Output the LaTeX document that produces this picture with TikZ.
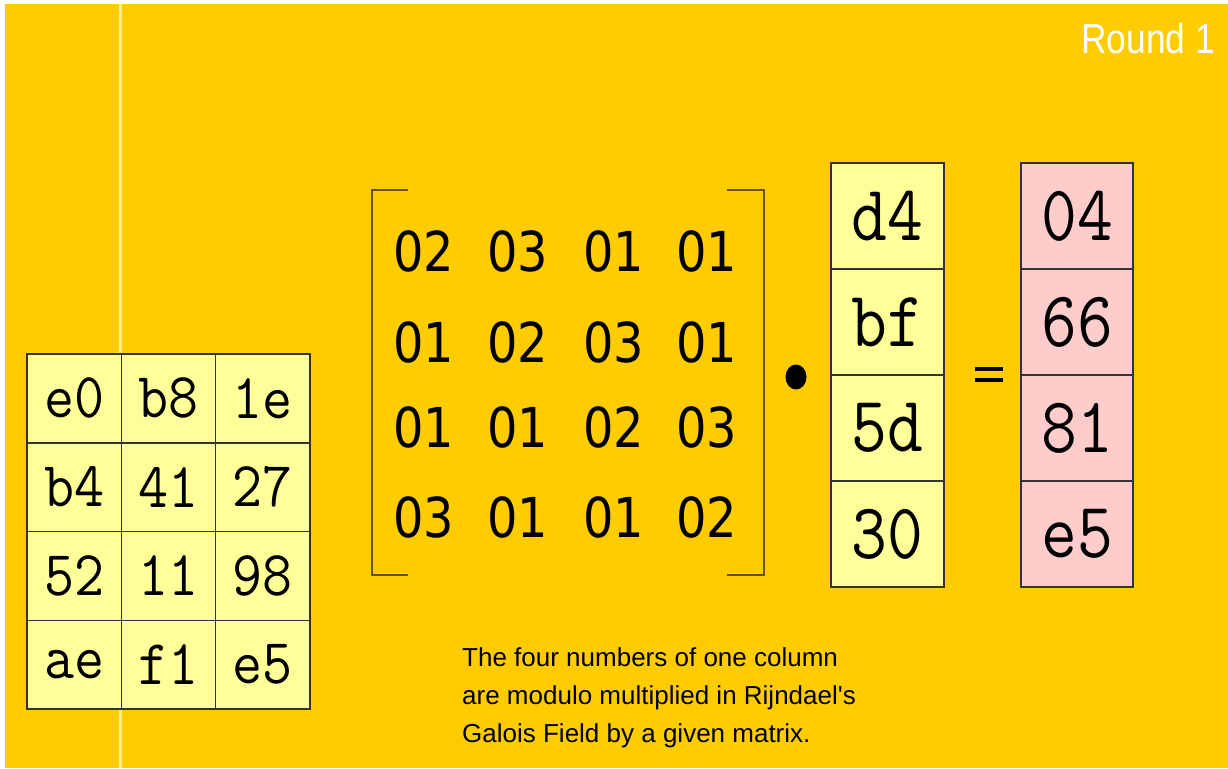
\documentclass[tikz,border=0pt]{standalone}
\usepackage{fontspec}
\newfontfamily\gridfont[FakeStretch=0.91]{Latin Modern Mono}
\newfontfamily\vecfont[FakeStretch=0.88]{Latin Modern Mono}
\newfontfamily\matfont[FakeStretch=0.87]{DejaVu Sans}
\newfontfamily\capfont{Liberation Sans}
\newfontfamily\titlefont[FakeStretch=0.84]{Liberation Sans}
\definecolor{bg}{HTML}{FFCC00}
\definecolor{lightyel}{HTML}{FFFF99}
\definecolor{pinkcell}{HTML}{FFCCCC}
\definecolor{cellline}{HTML}{333333}
\definecolor{bracketcol}{HTML}{665200}
\tikzset{
  gridcell/.style={draw=cellline, line width=1.5pt, fill=lightyel, inner sep=0pt, outer sep=0pt,
    minimum width=94.33pt, minimum height=88.75pt, font=\gridfont\fontsize{64}{64}\selectfont},
  veccell/.style={draw=cellline, line width=1.5pt, fill=lightyel, inner sep=0pt, outer sep=0pt,
    minimum width=113pt, minimum height=106pt, font=\vecfont\fontsize{79}{79}\selectfont},
  rescell/.style={veccell, fill=pinkcell, minimum width=112pt},
  matentry/.style={inner sep=0pt, font=\matfont\fontsize{55}{55}\selectfont},
  bracket/.style={draw=bracketcol, line width=2pt},
}
\begin{document}
\begin{tikzpicture}[x=1pt,y=-1pt]
\useasboundingbox (0,0) rectangle (1228,768);
\fill[white] (0,0) rectangle (1228,768);
\fill[bg] (5,4) rectangle (1228,768);
\draw[white, opacity=0.6, line width=3pt] (120,4) -- (120,768);
% state grid
\foreach \t [count=\i from 0] in {e0,b8,1e,b4,41,27,52,11,98,ae,f1,e5} {
  \pgfmathtruncatemacro\r{floor(\i/3)}
  \pgfmathtruncatemacro\c{\i-3*\r}
  \node[gridcell] (g\r\c) at ({27+94.33*(\c+0.5)},{354+88.75*(\r+0.5)}) {\t};
}
% matrix
\draw[bracket] (408,190) -- (372,190) -- (372,575) -- (408,575);
\draw[bracket] (727,190) -- (764,190) -- (764,575) -- (727,575);
\foreach \rowvals [count=\r from 0] in {{02,03,01,01},{01,02,03,01},{01,01,02,03},{03,01,01,02}} {
  \foreach \v [count=\c from 0] in \rowvals {
    \pgfmathsetmacro\mx{{424,518,614,707}[\c]}
    \pgfmathsetmacro\my{{251,342,427,517}[\r]}
    \node[matentry] (m\r\c) at (\mx,\my) {\v};
  }
}
% dot and equals
\fill[black] (796,377) ellipse [x radius=10.5pt, y radius=12.5pt];
\draw[black, line width=4pt] (975,369) -- (1003,369);
\draw[black, line width=4pt] (975,380) -- (1003,380);
% column vector
\foreach \t [count=\i from 0] in {d4,bf,5d,30} {
  \node[veccell] (v\i) at (887.5,{163+106*(\i+0.5)}) {\t};
}
% result vector
\foreach \t [count=\i from 0] in {04,66,81,e5} {
  \node[rescell] (w\i) at (1077,{163+106*(\i+0.5)}) {\t};
}
% title
\node[anchor=base east, inner sep=0pt, text=white, font=\titlefont\fontsize{42}{42}\selectfont] (title) at (1215,53) {Round 1};
% caption
\node[anchor=base west, inner sep=0pt, align=left, font=\capfont\fontsize{26}{38}\selectfont] (caption) at (462,742)
  {The four numbers of one column\\are modulo multiplied in Rijndael's\\Galois Field by a given matrix.};
\end{tikzpicture}
\end{document}
